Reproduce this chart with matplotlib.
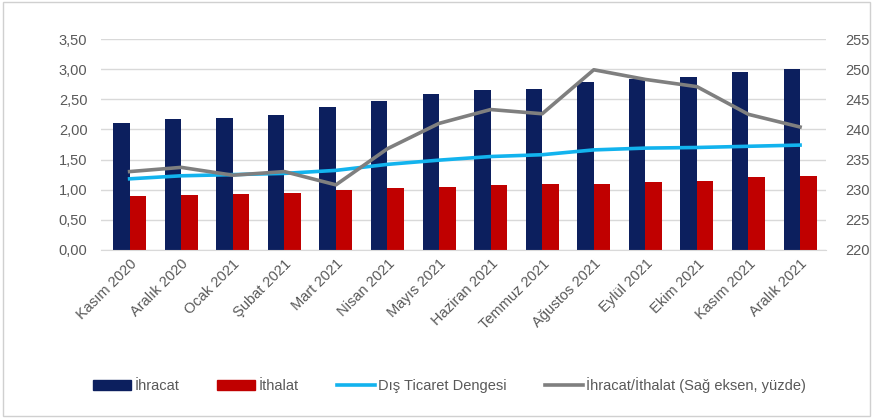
import matplotlib
matplotlib.use("Agg")
import matplotlib.pyplot as plt
from matplotlib.patches import Rectangle
from matplotlib.lines import Line2D
from matplotlib.patches import Patch

plt.rcParams['font.family'] = ['Liberation Sans', 'DejaVu Sans']

categories = ["Kasım 2020", "Aralık 2020", "Ocak 2021", "Şubat 2021", "Mart 2021",
              "Nisan 2021", "Mayıs 2021", "Haziran 2021", "Temmuz 2021", "Ağustos 2021",
              "Eylül 2021", "Ekim 2021", "Kasım 2021", "Aralık 2021"]
ihracat = [2.10, 2.17, 2.19, 2.24, 2.37, 2.48, 2.58, 2.66, 2.67, 2.78, 2.84, 2.87, 2.95, 3.00]
ithalat = [0.89, 0.91, 0.93, 0.95, 0.99, 1.03, 1.05, 1.08, 1.10, 1.10, 1.13, 1.15, 1.21, 1.23]
denge = [1.18, 1.23, 1.25, 1.27, 1.32, 1.42, 1.49, 1.55, 1.58, 1.66, 1.69, 1.70, 1.72, 1.74]
oran = [233.0, 233.7, 232.4, 233.0, 230.8, 236.8, 241.0, 243.3, 242.6, 249.9, 248.3, 247.1, 242.5, 240.4]
left_ticks = [0.0, 0.5, 1.0, 1.5, 2.0, 2.5, 3.0, 3.5]
right_ticks = [220, 225, 230, 235, 240, 245, 250, 255]

navy = "#0c1f5e"
red = "#c00000"
blue = "#12b3ee"
gray = "#7f7f7f"
tc = "#595959"

fig = plt.figure(figsize=(8.73, 4.2), dpi=100)
fig.patches.append(Rectangle((0.003, 0.01), 0.994, 0.985, transform=fig.transFigure,
                             fill=False, edgecolor="#d0d0d0", linewidth=1.0))
ax = fig.add_axes([0.116, 0.405, 0.830, 0.502])
x = list(range(len(categories)))
w = 0.32
ax.bar([i - 0.16 for i in x], ihracat, width=w, color=navy, zorder=2)
ax.bar([i + 0.16 for i in x], ithalat, width=w, color=red, zorder=2)
ax.plot(x, denge, color=blue, linewidth=2.6, zorder=3)
ax.set_ylim(0, 3.5)
ax.set_yticks(left_ticks)
ax.set_yticklabels([f"{t:.2f}".replace(".", ",") for t in left_ticks])
ax.set_xlim(-0.55, 13.5)
ax.set_xticks(x)
ax.set_xticklabels(categories, rotation=45, ha="right", rotation_mode="anchor")
ax.grid(axis="y", color="#d9d9d9", linewidth=1.0, zorder=0)
ax.set_axisbelow(True)
for s in ax.spines.values():
    s.set_visible(False)
ax.spines['bottom'].set_visible(True)
ax.spines['bottom'].set_color("#d9d9d9")
ax.tick_params(axis="both", length=0, colors=tc, labelsize=10.5)
ax.tick_params(axis="y", pad=10)
ax.tick_params(axis="x", pad=5)

ax2 = ax.twinx()
ax2.plot(x, oran, color=gray, linewidth=2.6, zorder=4)
ax2.set_ylim(220, 255)
ax2.set_yticks(right_ticks)
for s in ax2.spines.values():
    s.set_visible(False)
ax2.tick_params(axis="y", length=0, colors=tc, labelsize=10.5, pad=14)

handles = [Patch(color=navy), Patch(color=red),
           Line2D([], [], color=blue, linewidth=2.6),
           Line2D([], [], color=gray, linewidth=2.6)]
labels = ["İhracat", "İthalat", "Dış Ticaret Dengesi", "İhracat/İthalat (Sağ eksen, yüzde)"]
leg = fig.legend(handles, labels, loc="center", bbox_to_anchor=(0.515, 0.083), ncol=4,
                 frameon=False, fontsize=10.5, handlelength=2.6, handletextpad=0.25,
                 columnspacing=2.6, handleheight=0.7)
for t in leg.get_texts():
    t.set_color(tc)

fig.savefig("out.png", dpi=100)
